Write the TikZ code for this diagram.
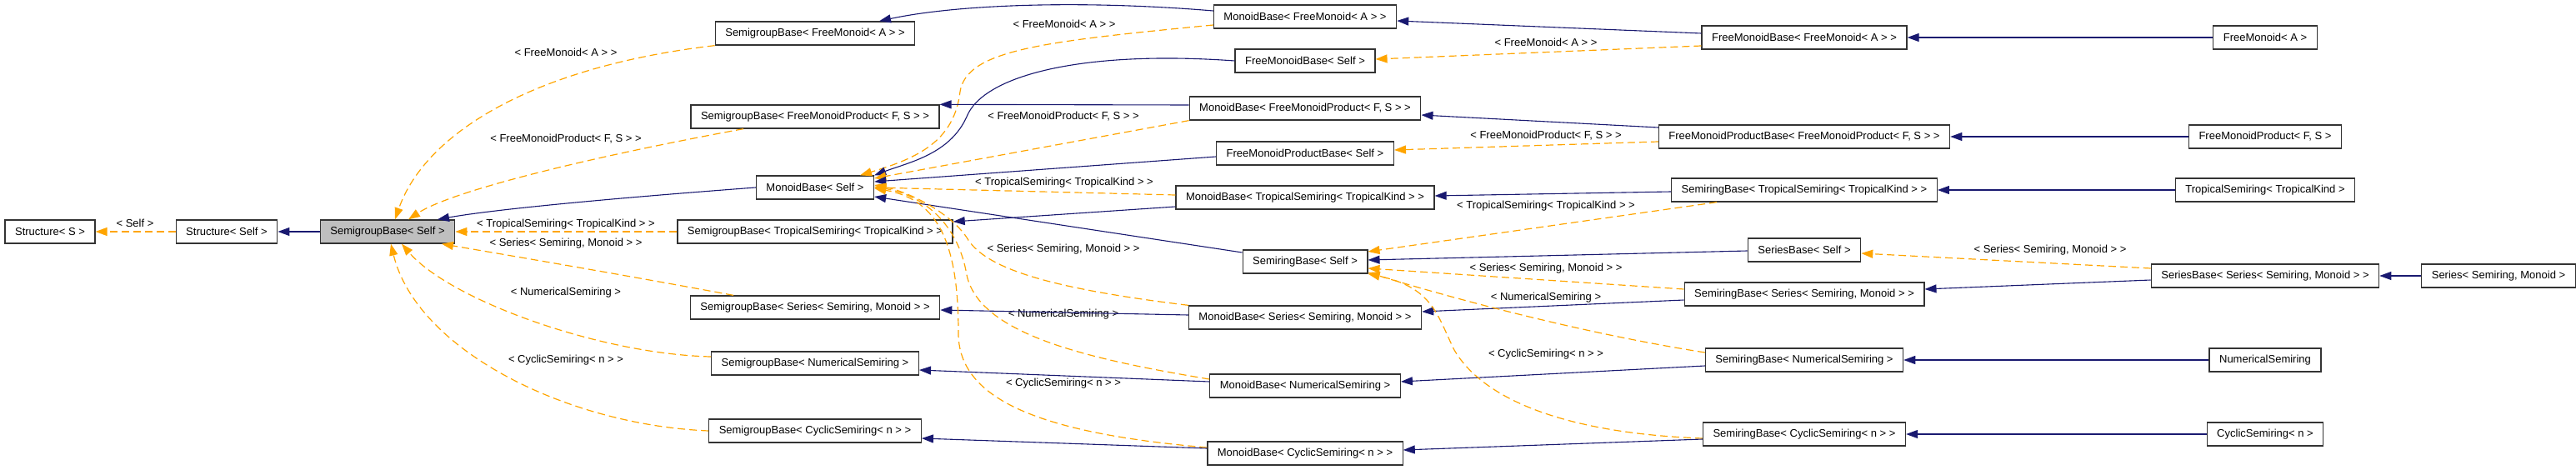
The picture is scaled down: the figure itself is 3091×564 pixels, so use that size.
\documentclass[tikz,border=0pt]{standalone}
\usepackage{fontspec}
\setmainfont{Liberation Sans}
\usetikzlibrary{arrows.meta}
\definecolor{inhblue}{HTML}{191970}
\definecolor{tplorange}{HTML}{FFA500}

\begin{document}
\begin{tikzpicture}
[x=1pt,y=-1pt,%
  every node/.style={font=\fontsize{13}{15}\selectfont},%
  cls/.style={draw=black!80,line width=1.3pt,fill=white,inner xsep=12pt,inner ysep=0pt,minimum height=28pt},%
  base/.style={cls,fill=black!25},%
  lbl/.style={inner sep=0pt},%
  inh/.style={draw=inhblue,line width=1.1pt,-{Triangle[length=14pt,width=10pt]}},%
  tpl/.style={draw=tplorange,line width=1.2pt,dash pattern=on 9pt off 5pt,-{Triangle[length=14pt,width=10pt]}}]
\useasboundingbox (0,0) rectangle (3091,564);

\node[cls] (structS) at (60,278) {Structure< S >};
\node[cls] (structSelf) at (272,278) {Structure< Self >};
\node[base] (sgSelf) at (465,278) {SemigroupBase< Self >};

\node[cls] (sgFM) at (978,40) {SemigroupBase< FreeMonoid< A > >};
\node[cls] (sgFMP) at (978,140) {SemigroupBase< FreeMonoidProduct< F, S > >};
\node[cls] (mbSelf) at (978,225) {MonoidBase< Self >};
\node[cls] (sgTrop) at (978,278) {SemigroupBase< TropicalSemiring< TropicalKind > >};
\node[cls] (sgSer) at (978,369) {SemigroupBase< Series< Semiring, Monoid > >};
\node[cls] (sgNum) at (978,436) {SemigroupBase< NumericalSemiring >};
\node[cls] (sgCyc) at (978,517) {SemigroupBase< CyclicSemiring< n > >};

\node[cls] (mbFM) at (1566,20) {MonoidBase< FreeMonoid< A > >};
\node[cls] (fmbSelf) at (1566,73) {FreeMonoidBase< Self >};
\node[cls] (mbFMP) at (1566,130) {MonoidBase< FreeMonoidProduct< F, S > >};
\node[cls] (fmpbSelf) at (1566,184) {FreeMonoidProductBase< Self >};
\node[cls] (mbTrop) at (1566,237) {MonoidBase< TropicalSemiring< TropicalKind > >};
\node[cls] (srbSelf) at (1566,314) {SemiringBase< Self >};
\node[cls] (mbSer) at (1566,381) {MonoidBase< Series< Semiring, Monoid > >};
\node[cls] (mbNum) at (1566,463) {MonoidBase< NumericalSemiring >};
\node[cls] (mbCyc) at (1566,544) {MonoidBase< CyclicSemiring< n > >};

\node[cls] (fmbFM) at (2165,45) {FreeMonoidBase< FreeMonoid< A > >};
\node[cls] (fmpbFMP) at (2165,164) {FreeMonoidProductBase< FreeMonoidProduct< F, S > >};
\node[cls] (srbTrop) at (2165,228) {SemiringBase< TropicalSemiring< TropicalKind > >};
\node[cls] (serbSelf) at (2165,300) {SeriesBase< Self >};
\node[cls] (srbSer) at (2165,353) {SemiringBase< Series< Semiring, Monoid > >};
\node[cls] (srbNum) at (2165,432) {SemiringBase< NumericalSemiring >};
\node[cls] (srbCyc) at (2165,521) {SemiringBase< CyclicSemiring< n > >};

\node[cls] (freeMonoid) at (2718,45) {FreeMonoid< A >};
\node[cls] (freeMonoidProd) at (2718,164) {FreeMonoidProduct< F, S >};
\node[cls] (tropical) at (2718,228) {TropicalSemiring< TropicalKind >};
\node[cls] (serbSer) at (2718,331) {SeriesBase< Series< Semiring, Monoid > >};
\node[cls] (series) at (2998,331) {Series< Semiring, Monoid >};
\node[cls] (numerical) at (2718,432) {NumericalSemiring};
\node[cls] (cyclic) at (2718,521) {CyclicSemiring< n >};

% labels
\node[lbl] (lSelf) at (162,268) {< Self >};
\node[lbl] (lFM1) at (679,63) {< FreeMonoid< A > >};
\node[lbl] (lFMP1) at (679,167) {< FreeMonoidProduct< F, S > >};
\node[lbl] (lTrop1) at (679,269) {< TropicalSemiring< TropicalKind > >};
\node[lbl] (lSer1) at (679,292) {< Series< Semiring, Monoid > >};
\node[lbl] (lNum1) at (679,351) {< NumericalSemiring >};
\node[lbl] (lCyc1) at (679,432) {< CyclicSemiring< n > >};
\node[lbl] (lFM2) at (1277,29) {< FreeMonoid< A > >};
\node[lbl] (lFMP2) at (1276,140) {< FreeMonoidProduct< F, S > >};
\node[lbl] (lTrop2) at (1277,219) {< TropicalSemiring< TropicalKind > >};
\node[lbl] (lSer2) at (1276,299) {< Series< Semiring, Monoid > >};
\node[lbl] (lNum2) at (1276,377) {< NumericalSemiring >};
\node[lbl] (lCyc2) at (1276,460) {< CyclicSemiring< n > >};
\node[lbl] (lFM3) at (1855,51) {< FreeMonoid< A > >};
\node[lbl] (lFMP3) at (1855,163) {< FreeMonoidProduct< F, S > >};
\node[lbl] (lTrop3) at (1855,247) {< TropicalSemiring< TropicalKind > >};
\node[lbl] (lSer3) at (1855,322) {< Series< Semiring, Monoid > >};
\node[lbl] (lNum3) at (1855,357) {< NumericalSemiring >};
\node[lbl] (lCyc3) at (1855,425) {< CyclicSemiring< n > >};
\node[lbl] (lSer4) at (2460,300) {< Series< Semiring, Monoid > >};

% into SemigroupBase< Self >
\draw[tpl] (structSelf.west) -- (structS.east);
\draw[inh] (sgSelf.west) -- (structSelf.east);
\draw[inh] (mbSelf.west) .. controls (760,236) and (600,250) .. ([xshift=60]sgSelf.north);
\draw[tpl] (sgFM.south west) .. controls (640,80) and (510,160) .. ([xshift=9]sgSelf.north);
\draw[tpl] ([xshift=-86]sgFMP.south) .. controls (700,190) and (540,230) .. ([xshift=25]sgSelf.north);
\draw[tpl] (sgTrop.west) -- (sgSelf.east);
\draw[tpl] ([xshift=-98]sgSer.north) .. controls (760,332) and (620,308) .. ([xshift=65]sgSelf.south);
\draw[tpl] ([yshift=8]sgNum.west) .. controls (720,425) and (540,360) .. ([xshift=17]sgSelf.south);
\draw[tpl] (sgCyc.west) .. controls (680,510) and (500,420) .. ([xshift=4]sgSelf.south);

% second column
\draw[inh] ([yshift=7]mbFM.west) .. controls (1300,0) and (1150,5) .. ([xshift=77]sgFM.north);
\draw[tpl] ([yshift=-10]mbFM.west) .. controls (1250,50) and (1160,60) .. (1152,110)
  .. controls (1145,170) and (1100,190) .. ([xshift=54]mbSelf.north);
\draw[inh] (fmbSelf.west) .. controls (1300,60) and (1180,90) .. (1160,140)
  .. controls (1140,185) and (1090,195) .. (mbSelf.north east);
\draw[inh] ([yshift=4]mbFMP.west) -- (sgFMP.north east);
\draw[tpl] (mbFMP.south west) -- ([yshift=11]mbSelf.east);
\draw[inh] ([yshift=-4]fmpbSelf.west) -- ([yshift=7]mbSelf.east);
\draw[tpl] ([yshift=3]mbTrop.west) -- (mbSelf.east);
\draw[inh] ([yshift=-11]mbTrop.west) -- ([yshift=12]sgTrop.east);
\draw[inh] ([yshift=11]srbSelf.west) -- ([yshift=-11]mbSelf.east);
\draw[tpl] (mbSer.north west) .. controls (1250,345) and (1180,320) .. (1160,285)
  .. controls (1140,255) and (1090,230) .. ([yshift=3]mbSelf.east);
\draw[inh] ([yshift=3]mbSer.west) -- ([yshift=-3]sgSer.east);
\draw[tpl] ([yshift=8]mbNum.west) .. controls (1300,430) and (1175,400) .. (1160,330)
  .. controls (1150,270) and (1110,235) .. ([yshift=1]mbSelf.east);
\draw[inh] ([yshift=5]mbNum.west) -- ([yshift=-8]sgNum.east);
\draw[tpl] ([yshift=7]mbCyc.west) .. controls (1250,520) and (1150,480) .. (1150,400)
  .. controls (1150,300) and (1130,240) .. ([yshift=-1]mbSelf.east);
\draw[inh] ([yshift=6]mbCyc.west) -- ([yshift=-9]sgCyc.east);

% third column
\draw[inh] ([yshift=5]fmbFM.west) -- ([yshift=-5]mbFM.east);
\draw[tpl] ([yshift=-10]fmbFM.west) -- ([yshift=2]fmbSelf.east);
\draw[inh] ([yshift=11]fmpbFMP.west) -- ([yshift=-8]mbFMP.east);
\draw[tpl] ([yshift=-6]fmpbFMP.west) -- ([yshift=4]fmpbSelf.east);
\draw[inh] ([yshift=-2]srbTrop.west) -- ([yshift=2]mbTrop.east);
\draw[tpl] ([xshift=-105]srbTrop.south) -- ([yshift=12]srbSelf.east);
\draw[inh] ([yshift=-1]serbSelf.west) -- ([yshift=2]srbSelf.east);
\draw[tpl] ([yshift=6]srbSer.west) -- ([yshift=-8]srbSelf.east);
\draw[inh] ([yshift=-7]srbSer.west) -- ([yshift=7]mbSer.east);
\draw[tpl] ([yshift=9]srbNum.west) .. controls (1900,400) and (1750,360) .. ([yshift=-13]srbSelf.east);
\draw[inh] ([yshift=-7]srbNum.west) -- ([yshift=5]mbNum.east);
\draw[tpl] ([yshift=-5]srbCyc.west) .. controls (1880,520) and (1780,480) .. (1745,420)
  .. controls (1725,380) and (1720,345) .. (srbSelf.south east);
\draw[inh] ([yshift=-6]srbCyc.west) -- ([yshift=4]mbCyc.east);

% leaves
\draw[inh] (freeMonoid.west) -- (fmbFM.east);
\draw[inh] (freeMonoidProd.west) -- (fmpbFMP.east);
\draw[inh] (tropical.west) -- (srbTrop.east);
\draw[tpl] ([yshift=9]serbSer.west) -- ([yshift=-4]serbSelf.east);
\draw[inh] ([yshift=-5]serbSer.west) -- ([yshift=6]srbSer.east);
\draw[inh] (series.west) -- (serbSer.east);
\draw[inh] (numerical.west) -- (srbNum.east);
\draw[inh] (cyclic.west) -- (srbCyc.east);
\end{tikzpicture}
\end{document}
